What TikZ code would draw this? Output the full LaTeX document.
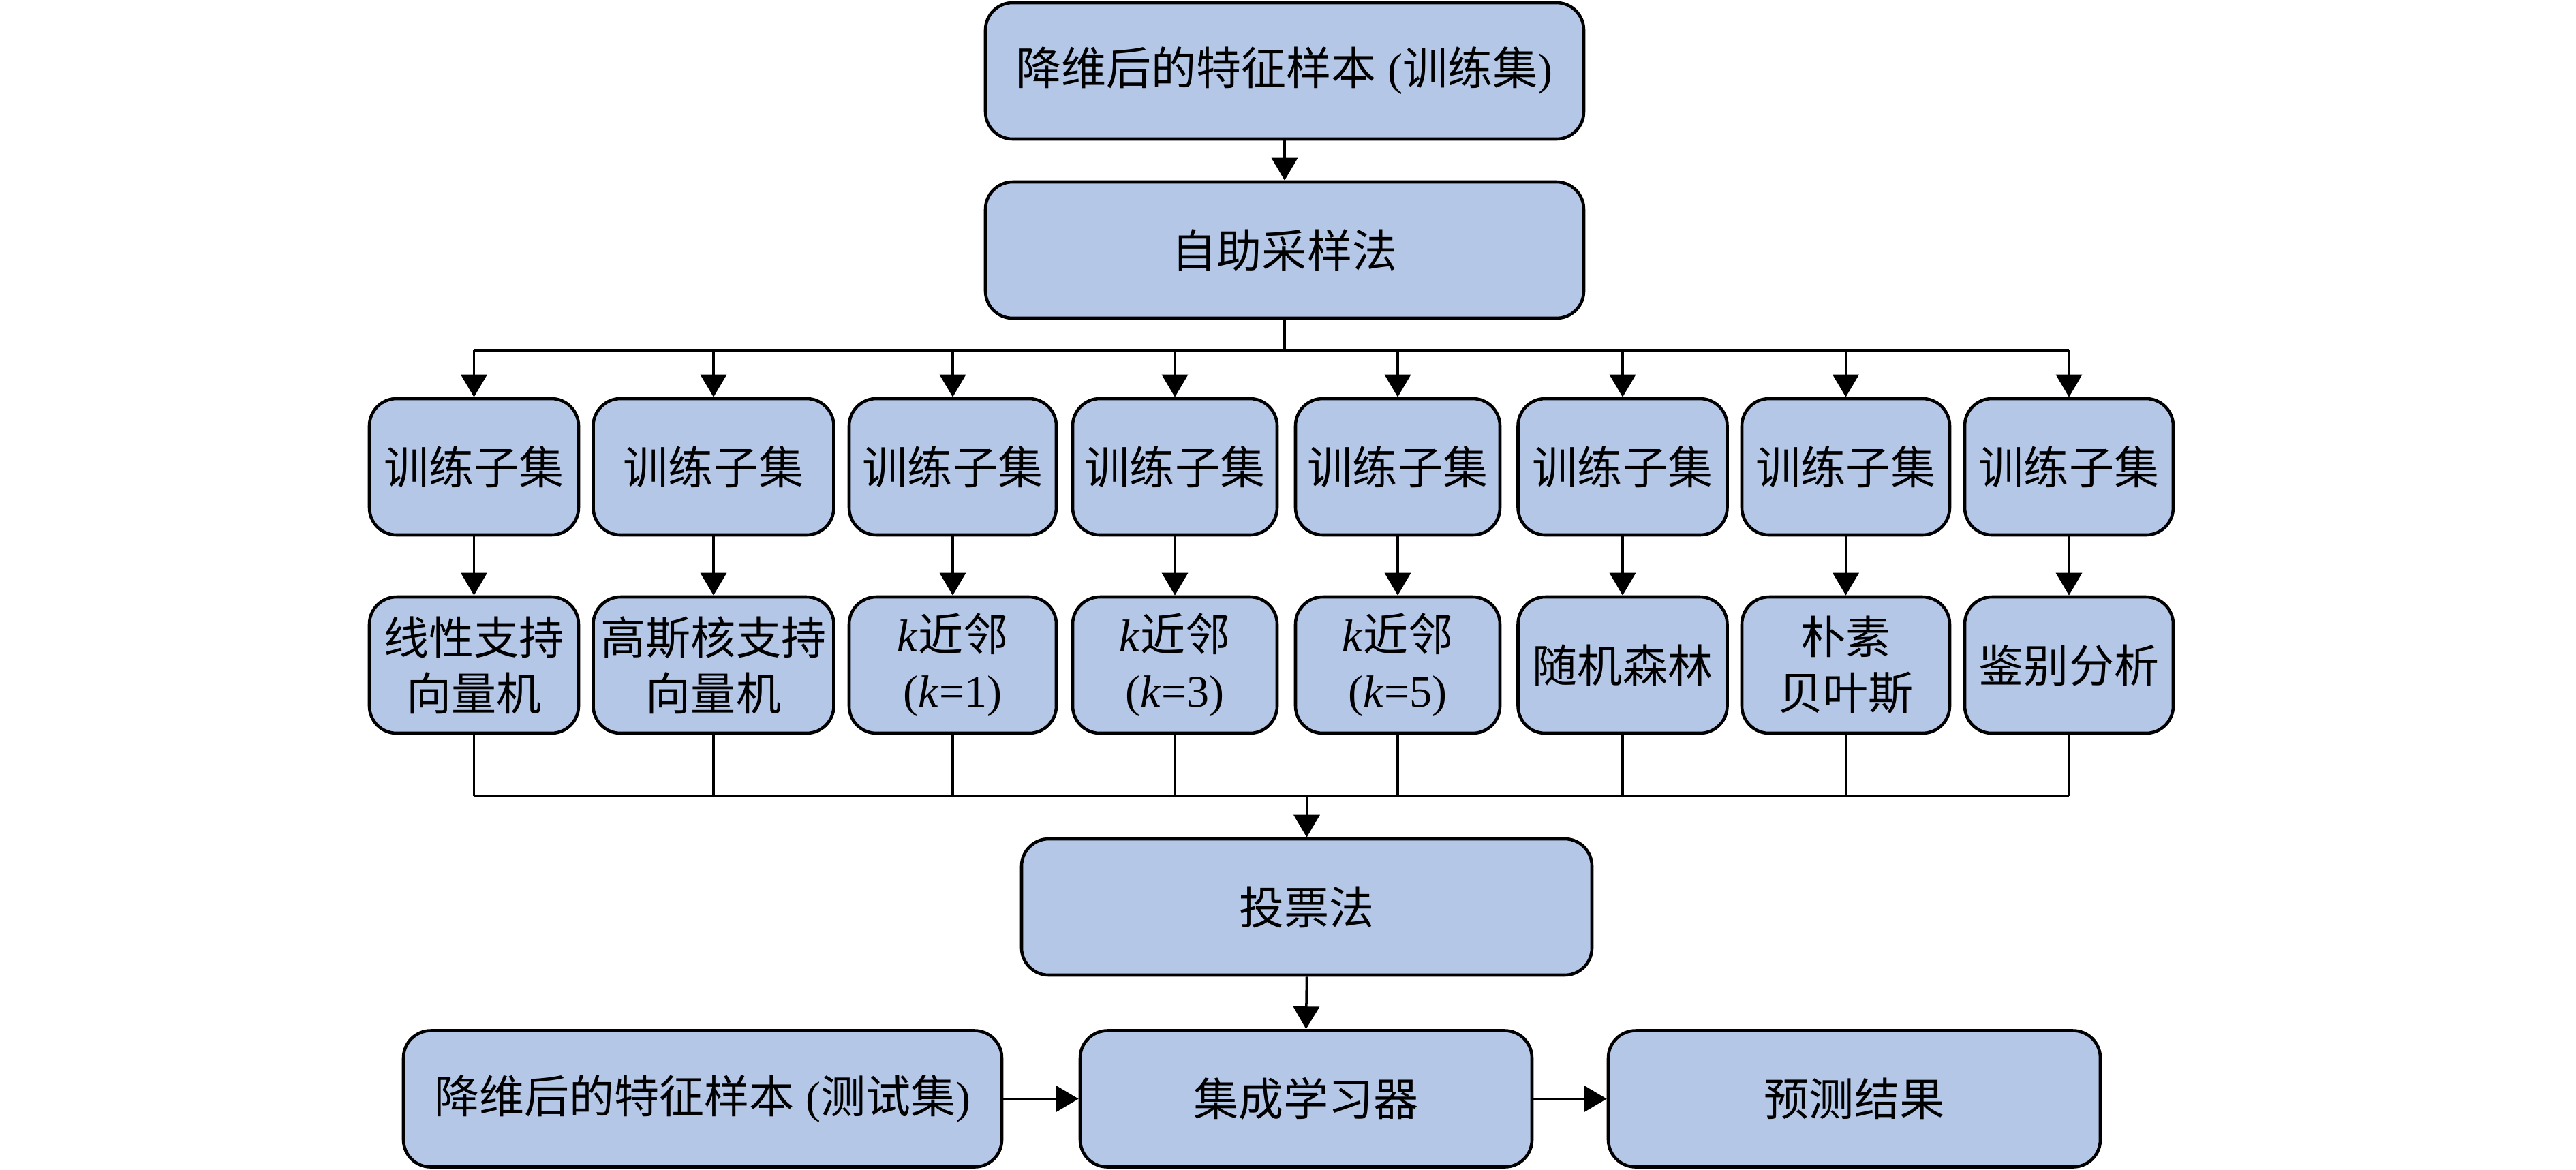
\documentclass[tikz,border=0pt]{standalone}
\usepackage{fontspec}
\setmainfont{Liberation Serif}
\newfontfamily\cjk{Noto Sans CJK SC}
\usetikzlibrary{arrows.meta}
\definecolor{boxblue}{RGB}{180,199,231}
\tikzset{
  box/.style={draw, line width=1.3pt, fill=boxblue, rounded corners=0.4cm,
    minimum height=2.0cm, align=center, inner sep=0pt,
    font=\fontsize{18.8pt}{23.3pt}\selectfont},
  conn/.style={line width=1.0pt},
  arr/.style={line width=1.0pt, -{Triangle[length=0.33cm,width=0.38cm]}}
}
\begin{document}
\begin{tikzpicture}
\useasboundingbox (0,0) rectangle (37.8,-17.16);
% top
\node[box, minimum width=8.78cm] (top) at (18.85,-1.04) {{\cjk 降维后的特征样本} ({\cjk 训练集})};
\node[box, minimum width=8.78cm] (boot) at (18.85,-3.67) {\cjk 自助采样法};
% row 1
\foreach \i/\x/\w in {1/6.955/3.07, 2/10.47/3.53, 3/13.98/3.04, 4/17.24/3.0, 5/20.51/3.0, 6/23.81/3.07, 7/27.085/3.05, 8/30.36/3.06}{
  \node[box, minimum width=\w cm] (t\i) at (\x,-6.85) {\cjk 训练子集};
}
% row 2
\node[box, minimum width=3.07cm] (m1) at (6.955,-9.76) {\cjk 线性支持\\\cjk 向量机};
\node[box, minimum width=3.53cm] (m2) at (10.47,-9.76) {\cjk 高斯核支持\\\cjk 向量机};
\node[box, minimum width=3.04cm] (m3) at (13.98,-9.76) {\textit{k}{\cjk 近邻}\\(\textit{k}=1)};
\node[box, minimum width=3.0cm] (m4) at (17.24,-9.76) {\textit{k}{\cjk 近邻}\\(\textit{k}=3)};
\node[box, minimum width=3.0cm] (m5) at (20.51,-9.76) {\textit{k}{\cjk 近邻}\\(\textit{k}=5)};
\node[box, minimum width=3.07cm] (m6) at (23.81,-9.76) {\cjk 随机森林};
\node[box, minimum width=3.05cm] (m7) at (27.085,-9.76) {\cjk 朴素\\\cjk 贝叶斯};
\node[box, minimum width=3.06cm] (m8) at (30.36,-9.76) {\cjk 鉴别分析};
% voting and bottom row
\node[box, minimum width=8.37cm] (vote) at (19.175,-13.31) {\cjk 投票法};
\node[box, minimum width=8.78cm] (test) at (10.31,-16.125) {{\cjk 降维后的特征样本} ({\cjk 测试集})};
\node[box, minimum width=6.63cm] (ens) at (19.165,-16.125) {\cjk 集成学习器};
\node[box, minimum width=7.22cm] (res) at (27.21,-16.125) {\cjk 预测结果};
% bus coordinates
\coordinate (b1) at (18.85,-5.14);
\coordinate (b2) at (19.175,-11.68);
% connectors
\draw[arr] (top.south) -- (boot.north);
\draw[conn] (boot.south) -- (b1);
\draw[conn] (t1.north |- b1) -- (t8.north |- b1);
\foreach \i in {1,...,8}{
  \draw[arr] (t\i.north |- b1) -- (t\i.north);
  \draw[arr] (t\i.south) -- (m\i.north);
  \draw[conn] (m\i.south) -- (m\i.south |- b2);
}
\draw[conn] (m1.south |- b2) -- (m8.south |- b2);
\draw[arr] (vote.north |- b2) -- (vote.north);
\draw[arr] (vote.south) -- (ens.north);
\draw[arr] (test.east) -- (ens.west);
\draw[arr] (ens.east) -- (res.west);
\end{tikzpicture}
\end{document}
